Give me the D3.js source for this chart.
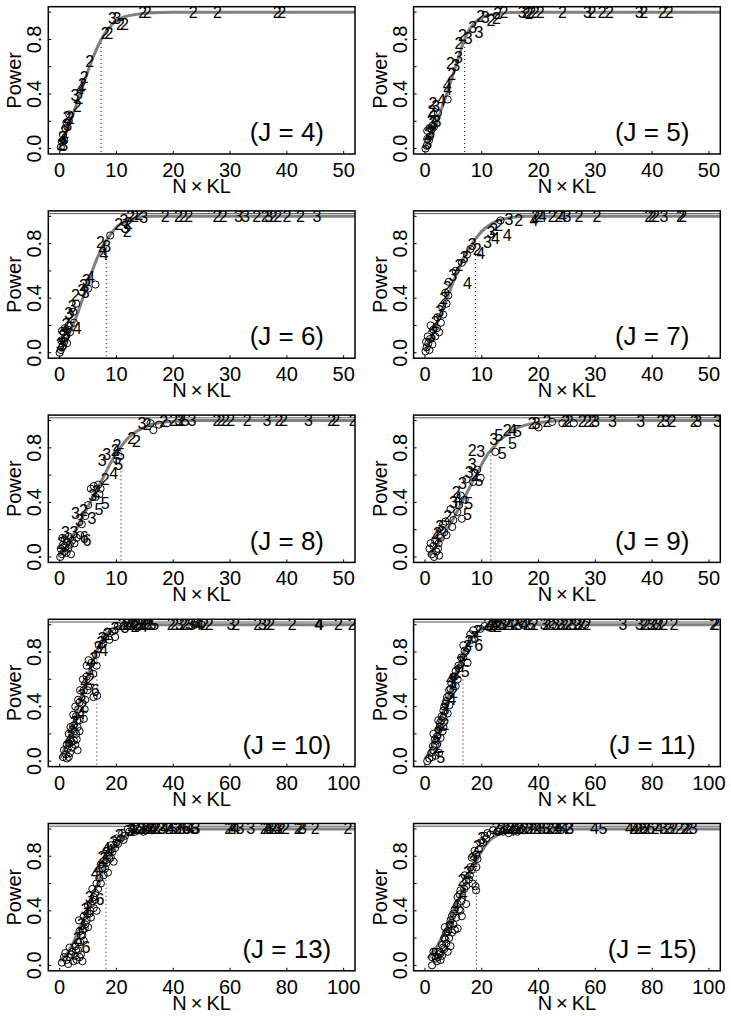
<!DOCTYPE html>
<html lang="en">
<head>
<meta charset="UTF-8">
<title>Power vs N x KL</title>
<script src="https://d3js.org/d3.v7.min.js"></script>
<style>
  html, body { margin: 0; padding: 0; background: #fff; }
  svg { display: block; }
  text { font-family: "Liberation Sans", Arial, Helvetica, sans-serif; fill: #000; }
</style>
</head>
<body>
<svg id="chart" width="731" height="1016"></svg>
<script>
// panel settings
const panelJ = [4, 5, 6, 7, 8, 9, 10, 11, 13, 15];
const xMaxes = [50, 50, 50, 50, 50, 50, 100, 100, 100, 100];
const xStars = [7.3, 7.0, 8.2, 8.9, 10.8, 11.6, 13.1, 13.4, 16.3, 18.1];
const refLevels = [null, null, 1.02, 1.02, 1.02, 1.02, 1.02, 1.02, 1.02, 1.02];
const ticks50 = [0, 10, 20, 30, 40, 50];
const ticks100 = [0, 20, 40, 60, 80, 100];
const yTicks = [0, 0.2, 0.4, 0.6, 0.8, 1.0];
const yTickLabels = [0, 0.4, 0.8];

// fitted curves (x, power)
const curve4 = [[0,0.01],[1,0.1],[2,0.21],[3,0.33],[4,0.45],[5,0.57],[6,0.68],[7.2,0.79],[8.2,0.86],[9.5,0.92],[11,0.96],[13,0.98],[16,0.995],[20,1],[52,1]];
const curve5 = [[0,0.01],[1,0.08],[2,0.18],[3,0.3],[4,0.42],[5,0.55],[6,0.68],[6.8,0.78],[7.5,0.85],[8.5,0.91],[10,0.96],[12,0.985],[15,0.998],[20,1],[52,1]];
const curve6 = [[0,0.01],[1,0.08],[2,0.17],[3,0.27],[4,0.39],[5,0.51],[6,0.63],[7,0.73],[8,0.81],[9,0.87],[10,0.92],[11.5,0.96],[13,0.985],[16,1],[52,1]];
const curve7 = [[0,0.01],[1,0.1],[2,0.2],[3,0.3],[4,0.41],[5,0.52],[6,0.62],[7,0.71],[8,0.78],[9,0.84],[10,0.89],[11.5,0.94],[13,0.97],[15,0.99],[18,1],[52,1]];
const curve8 = [[0,0.01],[1,0.06],[2,0.13],[3,0.21],[4,0.29],[5,0.37],[6,0.45],[7,0.53],[8,0.61],[9,0.69],[10,0.76],[11,0.82],[12,0.87],[13.5,0.92],[15,0.95],[17,0.98],[20,0.995],[24,1],[52,1]];
const curve9 = [[0.5,0.01],[2,0.08],[3,0.14],[4,0.21],[5,0.28],[6,0.36],[7,0.44],[8,0.52],[9,0.6],[10,0.68],[11,0.75],[12,0.8],[13,0.85],[14.5,0.9],[16,0.94],[18,0.97],[21,0.99],[25,1],[52,1]];
const curve10 = [[0,0.02],[2,0.1],[4,0.22],[6,0.36],[8,0.5],[10,0.63],[12,0.75],[14,0.85],[16,0.92],[18,0.96],[21,0.985],[25,1],[104,1]];
const curve11 = [[0,0.02],[2,0.08],[4,0.2],[6,0.33],[8,0.46],[10,0.59],[12,0.71],[14,0.81],[16,0.89],[18,0.94],[21,0.98],[25,0.995],[30,1],[104,1]];
const curve13 = [[0,0.03],[3,0.1],[6,0.22],[9,0.37],[12,0.53],[15,0.68],[18,0.81],[20,0.88],[22,0.93],[25,0.97],[29,0.99],[34,1],[104,1]];
const curve15 = [[1,0.05],[4,0.13],[7,0.25],[10,0.39],[13,0.54],[16,0.68],[19,0.8],[21,0.87],[23,0.92],[26,0.96],[30,0.99],[35,1],[104,1]];

// plotted points (x, power, plotting character; "o" = open circle)
const pts4 = [[14.6,1.0,"2"],[15.4,1.0,"2"],[23.5,1.0,"2"],[27.8,1.0,"2"],[38.3,1.0,"2"],[39.1,1.0,"2"],
  [9.3,0.95,"3"],[10.1,0.95,"3"],[10.7,0.91,"2"],[11.4,0.91,"2"],[8.0,0.84,"2"],[8.7,0.84,"2"],
  [5.3,0.64,"2"],[4.3,0.52,"2"],[4.0,0.47,"2"],[3.7,0.44,"4"],[2.7,0.39,"3"],[3.4,0.37,"2"],[3.1,0.31,"2"],
  [1.3,0.23,"2"],[1.6,0.2,"o"],[1.4,0.17,"3"],[1.0,0.15,"o"],[0.9,0.12,"2"],[0.6,0.1,"o"],[0.5,0.08,"3"],
  [0.4,0.05,"o"],[0.3,0.03,"2"],[0.2,0.01,"o"],[0.8,0.06,"o"],[1.7,0.25,"o"],[0.7,0.02,"3"],[1.2,0.19,"o"],[1.9,0.22,"2"]];
const pts5 = [[12.8,0.99,"2"],[13.9,1.0,"2"],[18.3,0.99,"2"],[17.1,1.0,"3"],[17.8,1.0,"2"],[18.8,1.0,"2"],[19.4,1.0,"2"],
  [20.3,1.0,"2"],[24.2,1.0,"2"],[28.6,1.0,"3"],[29.4,1.0,"2"],[31.2,1.0,"2"],[32.5,1.0,"2"],[37.7,1.0,"3"],[38.5,1.0,"2"],
  [41.8,1.0,"2"],[43,1.0,"2"],[9.8,0.97,"2"],[10.6,0.96,"3"],[11.6,0.94,"2"],[12.6,0.95,"2"],[9.5,0.85,"3"],[8.4,0.89,"3"],
  [6.6,0.83,"2"],[6.0,0.77,"2"],[7.6,0.81,"3"],[5.9,0.67,"3"],[4.5,0.62,"2"],[5.4,0.61,"3"],[4.7,0.54,"2"],[3.9,0.46,"4"],
  [4.0,0.43,"4"],[4.0,0.36,"o"],[2.9,0.35,"4"],[1.4,0.33,"2"],[1.9,0.31,"3"],
  [0.1,0.0,"o"],[0.3,0.02,"o"],[0.5,0.04,"3"],[0.4,0.07,"o"],[0.7,0.06,"o"],[0.6,0.1,"2"],[0.9,0.09,"o"],[1.0,0.12,"3"],
  [0.8,0.15,"o"],[1.2,0.14,"o"],[1.4,0.18,"3"],[1.1,0.2,"2"],[1.6,0.16,"o"],[1.8,0.22,"o"],[2.1,0.2,"3"],[1.5,0.25,"o"],
  [0.4,0.13,"o"],[2.3,0.26,"o"],[1.2,0.27,"2"]];
const pts6 = [[12.5,1.0,"2"],[13.2,1.0,"2"],[13.9,1.01,"2"],[14.8,0.99,"3"],[18.6,1.0,"2"],[20.9,1.0,"2"],[21.8,1.0,"2"],
  [22.7,1.0,"2"],[27.7,1.0,"2"],[28.8,1.0,"2"],[31.5,1.0,"3"],[32.7,1.0,"3"],[34.7,1.0,"2"],[36.2,1.0,"2"],[36.8,1.0,"3"],
  [37.6,1.0,"2"],[38.4,1.0,"2"],[40,1.0,"2"],[42.4,1.0,"2"],[45.3,1.0,"3"],
  [11.3,0.97,"3"],[10.4,0.94,"2"],[12.1,0.95,"2"],[11.9,0.89,"2"],[11.5,0.92,"3"],[8.9,0.86,"o"],[7.2,0.81,"2"],
  [8.3,0.78,"3"],[7.8,0.72,"4"],[7.6,0.76,"4"],[4.7,0.53,"3"],[4.2,0.49,"2"],[3.9,0.46,"3"],[6.3,0.5,"o"],[5.4,0.55,"4"],
  [4.5,0.44,"3"],[5.0,0.47,"o"],[2.8,0.42,"2"],[2.2,0.34,"3"],[2.9,0.36,"o"],[1.6,0.29,"3"],[1.9,0.26,"2"],[2.4,0.3,"o"],
  [3.1,0.18,"4"],[2.5,0.22,"o"],
  [0.0,0.0,"o"],[0.2,0.02,"o"],[0.4,0.04,"o"],[0.1,0.06,"3"],[0.6,0.05,"o"],[0.3,0.09,"o"],[0.8,0.08,"o"],[0.5,0.12,"2"],
  [1.0,0.11,"o"],[0.7,0.15,"o"],[1.2,0.14,"3"],[0.9,0.18,"o"],[1.4,0.17,"o"],[1.1,0.21,"2"],[1.6,0.2,"o"],[1.8,0.15,"o"],
  [0.4,0.16,"o"],[1.3,0.07,"o"]];
const pts7 = [[14.8,0.98,"3"],[16.5,0.97,"2"],[19.5,1.0,"2"],[19.2,0.97,"4"],[20.1,1.0,"2"],[20.7,1.0,"4"],[22.4,1.0,"2"],
  [23.6,1.0,"2"],[24.2,1.0,"4"],[25,1.0,"3"],[27.1,1.0,"2"],[30.3,1.0,"2"],[39.4,1.0,"2"],[40,1.0,"2"],[40.6,1.0,"2"],
  [42.1,1.0,"3"],[45,1.0,"2"],[45.4,1.0,"2"],
  [13.3,0.97,"o"],[13,0.93,"2"],[12.1,0.9,"2"],[12.4,0.84,"4"],[14.5,0.86,"4"],[11,0.81,"3"],[11.6,0.88,"3"],
  [8.3,0.79,"3"],[9.2,0.76,"2"],[9.8,0.73,"4"],[8.0,0.76,"o"],[6.9,0.7,"3"],[7.4,0.72,"o"],[6,0.64,"2"],[6.5,0.66,"o"],
  [5.4,0.6,"o"],[4.9,0.57,"3"],[7.5,0.51,"4"],[4.2,0.52,"o"],[3.9,0.48,"2"],[3.6,0.44,"o"],[4.1,0.42,"o"],[3.3,0.4,"2"],
  [3.8,0.36,"o"],[3.0,0.34,"o"],[2.6,0.3,"3"],[3.2,0.28,"o"],[2.2,0.26,"o"],[2.8,0.22,"o"],[1.8,0.22,"2"],[2.1,0.18,"o"],
  [1.5,0.17,"o"],[1.2,0.13,"3"],[1.8,0.12,"o"],[0.9,0.1,"o"],[0.6,0.07,"o"],[1.3,0.06,"o"],[0.3,0.04,"o"],[0.8,0.02,"o"],
  [0.1,0.01,"o"],[0.5,0.12,"o"],[1.0,0.2,"o"],[2.5,0.15,"o"],[0.2,0.08,"o"]];
const pts8 = [[14.5,0.98,"3"],[15.4,0.97,"2"],[16,0.98,"o"],[16.5,0.93,"o"],[17.5,0.97,"o"],[18.3,0.99,"2"],[18.9,0.98,"o"],
  [20.1,1.0,"2"],[21,1.0,"3"],[21.5,1.0,"2"],[22.1,1.0,"5"],[23.3,1.0,"3"],[27.7,1.0,"2"],[28.4,1.0,"2"],[29.2,1.0,"2"],
  [30.1,1.0,"2"],[33,1.0,"2"],[36.5,1.0,"3"],[38.6,1.0,"2"],[39.4,1.0,"2"],[43.8,1.0,"3"],[47.9,1.0,"2"],[48.6,1.0,"2"],
  [51.7,1.0,"2"],
  [12.7,0.87,"2"],[13.5,0.85,"2"],[10.1,0.82,"2"],[9.8,0.78,"2"],[7.5,0.71,"3"],[8.3,0.75,"3"],[10.4,0.68,"5"],
  [10.7,0.75,"5"],[9.5,0.61,"4"],[10.1,0.72,"5"],[8,0.57,"2"],[5.5,0.5,"o"],[6,0.52,"o"],[6.5,0.48,"2"],[7,0.46,"o"],
  [5.8,0.45,"3"],[6.3,0.44,"o"],[7.2,0.5,"o"],[6.8,0.53,"o"],[8,0.39,"5"],[6.9,0.35,"5"],[5.7,0.28,"3"],[2.8,0.32,"3"],
  [4.2,0.34,"2"],[5,0.38,"o"],[4.5,0.3,"o"],[3.5,0.27,"3"],[3.9,0.24,"o"],[1,0.18,"3"],[2.5,0.18,"3"],[3.6,0.16,"o"],
  [4.8,0.12,"6"],[4.3,0.14,"6"],
  [0.1,0.0,"o"],[0.4,0.02,"o"],[0.8,0.04,"o"],[0.2,0.06,"o"],[1.2,0.03,"o"],[0.6,0.09,"o"],[1.0,0.07,"o"],[1.5,0.06,"o"],
  [0.3,0.1,"2"],[1.3,0.11,"o"],[1.8,0.09,"o"],[2.2,0.12,"o"],[0.9,0.13,"o"],[2.0,0.02,"o"],[1.6,0.15,"o"],[2.6,0.1,"o"],
  [3.0,0.14,"o"],[0.5,0.14,"o"]];
const pts9 = [[18.9,0.98,"2"],[19.6,0.98,"3"],[20,0.95,"o"],[21.5,0.99,"2"],[22.4,0.99,"o"],[24.2,0.98,"o"],[24.8,0.99,"2"],
  [25.4,0.99,"2"],[26.2,0.98,"o"],[27.7,0.99,"2"],[28.6,0.99,"2"],[29.5,0.99,"2"],[30,0.99,"3"],[33,0.99,"3"],[38,0.99,"3"],
  [41.5,0.99,"2"],[42.4,0.99,"3"],[43.5,0.99,"2"],[47.4,0.99,"2"],[48,0.99,"3"],[51.5,0.99,"3"],
  [14.5,0.93,"2"],[15.4,0.93,"4"],[16.3,0.92,"5"],[12.1,0.86,"3"],[13,0.89,"5"],[12.4,0.77,"o"],[13.6,0.76,"5"],
  [15.4,0.83,"5"],[8.3,0.78,"2"],[9.8,0.77,"3"],[8.3,0.68,"3"],[9.2,0.64,"o"],[8.8,0.6,"2"],[7.8,0.62,"3"],[9.8,0.58,"o"],
  [8.5,0.55,"o"],[6.6,0.54,"3"],[9.5,0.56,"5"],[7.3,0.57,"o"],
  [5.5,0.47,"2"],[6.3,0.45,"o"],[7,0.42,"o"],[5,0.4,"3"],[6,0.38,"o"],[7.5,0.31,"5"],[7.7,0.39,"5"],[5.7,0.33,"o"],
  [4.5,0.35,"o"],[6.5,0.28,"o"],[4,0.3,"2"],[5,0.27,"o"],[3.6,0.26,"o"],[4.8,0.22,"o"],[5.8,0.42,"4"],
  [0.8,0.06,"o"],[1.2,0.02,"o"],[1.5,0.08,"o"],[2,0.04,"o"],[1.8,0.12,"o"],[2.4,0.1,"o"],[2.2,0.17,"2"],[2.8,0.14,"o"],
  [3,0.2,"o"],[3.4,0.18,"o"],[2.6,0.22,"3"],[1.6,0.0,"o"],[2.5,0.01,"o"],[1,0.1,"o"],[3.8,0.16,"o"],[3.2,0.24,"o"],
  [1.9,0.15,"4"],[2.3,0.06,"o"]];
const pts10 = [[22.5,0.99,"o"],[23.4,1.0,"2"],[24,0.99,"o"],[24.8,1.0,"4"],[25.5,1.0,"2"],[26.2,1.0,"o"],[27,1.0,"2"],
  [28,1.0,"3"],[28.8,1.0,"2"],[30,1.0,"2"],[31,1.0,"3"],[32.5,1.0,"5"],[39.3,1.0,"2"],[40.5,1.0,"2"],[42.2,1.0,"3"],
  [43.5,1.0,"2"],[45.7,1.0,"3"],[47.5,1.0,"o"],[49.2,1.0,"4"],[51,1.0,"2"],[52.7,1.0,"2"],[60.3,1.0,"3"],[62,1.0,"2"],
  [69.7,1.0,"2"],[71.4,1.0,"3"],[73,1.0,"2"],[74.3,1.0,"2"],[81.9,1.0,"2"],[91.2,1.0,"4"],[91.5,1.0,"4"],[98.2,1.0,"2"],
  [103,1.0,"2"],
  [22,1.0,"2"],[23,0.98,"3"],[25,0.99,"o"],[26.5,0.99,"2"],[27.5,0.98,"o"],[29,1.0,"3"],[29.5,0.99,"4"],[31.5,1.0,"2"],
  [33.5,1.0,"5"],[44.5,1.0,"2"],[46.5,1.0,"3"],[48.5,1.0,"4"],[50,1.0,"o"],
  [20.5,0.99,"o"],[19.5,0.97,"3"],[18.5,0.95,"o"],[17,0.93,"2"],[16,0.91,"o"],[15,0.9,"3"],[14.5,0.87,"2"],[15.5,0.81,"4"],
  [19.5,0.91,"o"],[17.5,0.89,"o"],[13.5,0.83,"3"],[12.8,0.78,"o"],[13.8,0.85,"o"],[15.2,0.86,"o"],[16.8,0.95,"o"],
  [12,0.75,"2"],[11.2,0.72,"o"],[13,0.7,"o"],[10.5,0.67,"3"],[11.8,0.64,"o"],[9.5,0.62,"o"],[10.8,0.6,"2"],[8.8,0.58,"4"],
  [10,0.55,"o"],[12.5,0.52,"6"],[11.9,0.47,"o"],[13.2,0.48,"o"],[8.5,0.52,"o"],[7.8,0.48,"3"],[9,0.45,"o"],[7,0.43,"o"],
  [8.2,0.4,"2"],[6.5,0.38,"o"],[7.6,0.35,"4"],[5.8,0.33,"o"],[7,0.3,"o"],[8.5,0.31,"o"],[5.2,0.28,"3"],[6.3,0.25,"o"],
  [4.5,0.23,"o"],[5.8,0.2,"o"],[7,0.22,"o"],[4,0.18,"2"],[5,0.15,"o"],[3.4,0.13,"o"],[4.4,0.1,"o"],[2.8,0.09,"o"],
  [3.6,0.06,"o"],[2.2,0.05,"o"],[1.5,0.08,"o"],[2.5,0.02,"o"],[3.0,0.15,"4"],[6.3,0.08,"o"],[5.5,0.12,"o"],[4.8,0.26,"o"],
  [6,0.16,"o"],[9.5,0.7,"o"],[10.2,0.74,"o"],[8.2,0.6,"o"],[9.8,0.52,"o"],[7.2,0.52,"o"],[6.5,0.45,"o"],[5.5,0.4,"o"],
  [8.8,0.38,"o"],[4.8,0.34,"o"],[6.2,0.3,"o"],[3.8,0.25,"o"],[5.3,0.22,"o"],[3.2,0.2,"o"],[4.2,0.14,"o"],[2.5,0.12,"o"],
  [1.2,0.03,"o"],[3.2,0.03,"o"]];
const pts11 = [[21,0.99,"o"],[22,1.0,"2"],[23,1.0,"4"],[24,1.0,"2"],[25,1.0,"o"],[26,1.0,"2"],[27.5,1.0,"3"],[28.5,1.0,"2"],
  [30,1.0,"4"],[31.5,1.0,"2"],[33,1.0,"3"],[34.5,1.0,"o"],[36,1.0,"2"],[37.5,1.0,"5"],[42,1.0,"3"],[43,1.0,"2"],
  [44.5,1.0,"2"],[46,1.0,"3"],[47.5,1.0,"2"],[49,1.0,"2"],[50.5,1.0,"2"],[52,1.0,"3"],[53.5,1.0,"2"],[55,1.0,"2"],
  [56.5,1.0,"o"],[69.7,1.0,"3"],[75.5,1.0,"3"],[77,1.0,"2"],[78,1.0,"2"],[79.6,1.0,"3"],[81.9,1.0,"3"],[84.2,1.0,"2"],
  [87.7,1.0,"2"],[101.7,1.0,"2"],[102.3,1.0,"2"],
  [22.5,0.98,"o"],[23.5,0.99,"3"],[24.5,1.0,"4"],[25.5,0.99,"2"],[26.5,1.0,"o"],[29,1.0,"2"],[32,1.0,"2"],[35,1.0,"4"],
  [38.5,1.0,"2"],[45,1.0,"o"],[48,1.0,"3"],[51,1.0,"2"],[54,1.0,"3"],[57,1.0,"2"],[80.5,1.0,"2"],[82.5,1.0,"2"],
  [19.5,0.97,"o"],[18.5,0.95,"2"],[17.5,0.91,"3"],[16.5,0.89,"o"],[15.5,0.88,"2"],[18.9,0.85,"6"],[15,0.84,"3"],
  [14,0.81,"o"],[14.5,0.78,"2"],[13.5,0.76,"o"],[15,0.72,"o"],[14.2,0.66,"5"],[12.5,0.72,"3"],[12,0.68,"o"],[11.2,0.65,"2"],
  [10.5,0.62,"o"],[11.5,0.6,"o"],[9.8,0.58,"3"],[10.8,0.55,"o"],[9,0.53,"o"],[10,0.5,"2"],[8.5,0.48,"o"],[9.5,0.45,"4"],
  [7.5,0.44,"o"],[8.6,0.41,"o"],[7,0.38,"3"],[8,0.35,"o"],[6.5,0.32,"o"],[5.8,0.3,"o"],[7,0.27,"2"],[5.2,0.25,"o"],
  [6.2,0.22,"o"],[4.5,0.2,"3"],[5.5,0.17,"o"],[4,0.15,"o"],[3.5,0.12,"o"],[4.5,0.1,"2"],[3,0.08,"o"],[2.2,0.06,"o"],
  [3.8,0.04,"o"],[1.5,0.02,"o"],[0.8,0.0,"o"],[5,0.06,"o"],[5.5,0.03,"5"],[6.5,0.25,"o"],[4.7,0.3,"o"],[3,0.2,"o"],
  [12.8,0.76,"o"],[11.8,0.7,"o"],[10.8,0.66,"o"],[10,0.62,"o"],[9.3,0.57,"o"],[8.5,0.52,"o"],[7.8,0.47,"o"],[7.2,0.42,"o"],
  [6.5,0.37,"o"],[6,0.33,"o"],[5.3,0.28,"o"],[4.8,0.23,"o"],[4.2,0.18,"o"],[3.5,0.16,"o"],[2.8,0.11,"o"],[2.5,0.03,"o"],
  [6.8,0.4,"o"],[9,0.6,"4"],[13.5,0.85,"o"],[16,0.93,"o"],[17,0.96,"o"]];
const pts13 = [[24,1.0,"o"],[25,0.99,"2"],[26,1.0,"o"],[27,1.0,"2"],[28,0.99,"o"],[29,1.0,"3"],[30,1.0,"2"],[31,1.0,"o"],
  [32,1.0,"2"],[33,1.0,"4"],[34,1.0,"2"],[35.5,1.0,"2"],[37,1.0,"4"],[38.5,1.0,"2"],[40,1.0,"5"],[41.5,1.0,"3"],[43,1.0,"5"],
  [44.5,1.0,"6"],[46,1.0,"4"],[47.5,1.0,"5"],[59.5,1.0,"2"],[60.5,1.0,"2"],[62,1.0,"4"],[63.5,1.0,"3"],[67.3,1.0,"3"],
  [72,1.0,"2"],[73,1.0,"2"],[74,1.0,"3"],[75,1.0,"2"],[76.5,1.0,"4"],[78,1.0,"2"],[79.5,1.0,"2"],[84,1.0,"2"],[85.5,1.0,"3"],
  [90,1.0,"2"],[101.5,1.0,"2"],
  [24.5,0.98,"o"],[25.5,1.0,"4"],[26.5,0.98,"o"],[27.5,1.0,"o"],[28.5,1.0,"2"],[29.5,0.98,"o"],[30.5,0.99,"o"],
  [31.5,1.0,"4"],[32.5,0.99,"o"],[33.5,1.0,"2"],[36,1.0,"3"],[39,1.0,"4"],[42,1.0,"2"],[45,1.0,"5"],[48,1.0,"3"],
  [61,1.0,"4"],[73.5,1.0,"4"],[77,1.0,"3"],[84.8,1.0,"2"],
  [22,0.97,"o"],[21,0.95,"2"],[20,0.93,"o"],[19,0.9,"3"],[23,0.95,"o"],[18,0.88,"o"],[20.5,0.89,"o"],[17.5,0.84,"4"],
  [16.5,0.82,"2"],[18,0.79,"o"],[19,0.76,"o"],[15.5,0.78,"2"],[14.5,0.74,"o"],[16,0.71,"o"],[17,0.68,"o"],[13.5,0.7,"4"],
  [12.5,0.67,"4"],[14,0.64,"o"],[13,0.6,"o"],[11.5,0.56,"o"],[12.5,0.53,"o"],[10.5,0.5,"3"],[11.5,0.47,"o"],[14.2,0.48,"6"],
  [13,0.4,"o"],[10,0.44,"o"],[9,0.41,"3"],[10.5,0.38,"o"],[8.5,0.36,"o"],[9.5,0.33,"o"],[7.8,0.3,"3"],[8.8,0.27,"o"],
  [7,0.25,"o"],[8,0.22,"o"],[6.2,0.2,"2"],[7.2,0.17,"o"],[9.3,0.13,"6"],[5.5,0.14,"o"],[6.5,0.11,"o"],[4.5,0.1,"o"],
  [5.5,0.07,"o"],[3.5,0.06,"o"],[4.8,0.03,"o"],[2.5,0.04,"o"],[1.5,0.06,"o"],[0.8,0.02,"o"],[3,0.01,"o"],[6,0.04,"o"],
  [7.5,0.08,"o"],[8.5,0.18,"o"],[10,0.28,"o"],[11,0.35,"o"],[6.8,0.33,"o"],[12,0.42,"o"],[8,0.03,"o"],
  [21.5,0.93,"o"],[22.5,0.92,"o"],[20,0.9,"o"],[19.5,0.86,"o"],[18.5,0.83,"o"],[17.5,0.78,"o"],[16.5,0.75,"o"],
  [15,0.71,"o"],[15.5,0.66,"o"],[14.5,0.6,"o"],[13.5,0.56,"o"],[12.5,0.48,"o"],[11,0.45,"o"],[9.8,0.38,"o"],[9,0.3,"o"],
  [8.2,0.26,"o"],[7.5,0.22,"o"],[6.5,0.17,"o"],[5.8,0.11,"o"],[4,0.08,"o"],[2,0.09,"o"],[3.5,0.13,"o"],[7,0.06,"o"],
  [10.8,0.4,"o"],[12,0.5,"o"],[16.5,0.86,"4"],[14.8,0.79,"2"]];
const pts15 = [[24,0.99,"o"],[25,1.0,"2"],[26,0.98,"o"],[27,1.0,"3"],[28,0.99,"o"],[29,1.0,"o"],[30,1.0,"2"],[31,0.99,"o"],
  [32,1.0,"4"],[33,1.0,"2"],[34,1.0,"o"],[35,1.0,"2"],[36.5,1.0,"3"],[38,1.0,"2"],[39.5,1.0,"2"],[41,1.0,"3"],[42.5,1.0,"5"],
  [44,1.0,"2"],[45.5,1.0,"3"],[47,1.0,"4"],[49,1.0,"4"],[50.5,1.0,"2"],[59.7,1.0,"4"],[62.7,1.0,"5"],[72,1.0,"4"],
  [73.5,1.0,"2"],[75,1.0,"2"],[76.5,1.0,"2"],[78,1.0,"2"],[79.5,1.0,"6"],[82.5,1.0,"4"],[84,1.0,"3"],[85.5,1.0,"2"],
  [87.5,1.0,"2"],[89.5,1.0,"2"],[91.5,1.0,"2"],[93,1.0,"2"],[94.5,1.0,"3"],
  [25.5,0.98,"o"],[26.5,1.0,"o"],[27.5,0.98,"o"],[28.5,1.0,"2"],[29.5,0.97,"o"],[30.5,0.99,"4"],[31.5,1.0,"o"],
  [32.5,0.98,"o"],[33.5,1.0,"3"],[34.5,0.99,"o"],[37,1.0,"2"],[40,1.0,"4"],[43,1.0,"3"],[46,1.0,"2"],[48,1.0,"5"],
  [51,1.0,"3"],[74,1.0,"4"],[77,1.0,"6"],[81,1.0,"2"],[86.5,1.0,"3"],[92,1.0,"2"],
  [22,0.97,"o"],[21,0.95,"o"],[20,0.93,"3"],[23,0.96,"o"],[19.5,0.9,"o"],[18.5,0.87,"2"],[17.5,0.84,"o"],[18,0.81,"o"],
  [16.5,0.79,"o"],[17.2,0.76,"2"],[16,0.72,"o"],[18.1,0.72,"o"],[17.8,0.58,"o"],[18,0.55,"o"],[15,0.68,"2"],[14,0.66,"o"],
  [15.5,0.63,"o"],[13,0.62,"2"],[14.5,0.58,"o"],[12.5,0.55,"o"],[13.5,0.52,"4"],[11.5,0.5,"o"],[12.8,0.47,"o"],
  [10.8,0.44,"4"],[12,0.41,"o"],[10,0.38,"o"],[11,0.35,"o"],[13,0.36,"o"],[9,0.33,"o"],[10,0.3,"o"],[8.5,0.28,"2"],
  [9.5,0.24,"o"],[7.5,0.24,"o"],[8.5,0.2,"o"],[6.8,0.2,"o"],[7.5,0.16,"o"],[6,0.15,"o"],[6.8,0.12,"o"],[5.2,0.1,"o"],
  [6,0.07,"o"],[4.5,0.06,"o"],[5.5,0.04,"o"],[3.5,0.08,"5"],[4.2,0.03,"o"],[2.5,0.0,"o"],[8,0.1,"o"],[9,0.14,"o"],
  [11.5,0.27,"o"],[7,0.28,"o"],
  [21.5,0.93,"o"],[20.5,0.9,"o"],[19,0.85,"o"],[18.5,0.78,"o"],[17,0.8,"o"],[16.5,0.7,"o"],[15.8,0.66,"o"],[14.5,0.62,"o"],
  [13.8,0.56,"o"],[12.2,0.52,"o"],[11.5,0.45,"o"],[10.5,0.41,"o"],[9.5,0.36,"o"],[8.8,0.3,"o"],[8,0.25,"o"],[7.2,0.19,"o"],
  [6.4,0.13,"o"],[5.5,0.09,"o"],[4.8,0.08,"o"],[3.8,0.05,"o"],[10.5,0.26,"o"],[12.5,0.4,"o"],[14.5,0.45,"o"],
  [16.8,0.6,"o"],[2.5,0.06,"o"],[3,0.1,"o"]];

const curves = [curve4, curve5, curve6, curve7, curve8, curve9, curve10, curve11, curve13, curve15];
const points = [pts4, pts5, pts6, pts7, pts8, pts9, pts10, pts11, pts13, pts15];

const svg = d3.select("#chart");
const boxW = 306.7, boxH = 147.3;
const colStep = 365.3, rowStep = 204.2;

panelJ.forEach((J, i) => {
  const col = i % 2, row = Math.floor(i / 2);
  const left = 48.3 + col * colStep, top = 6.7 + row * rowStep;
  const xmax = xMaxes[i];
  const x = d3.scaleLinear().domain([-0.04 * xmax, 1.04 * xmax]).range([left, left + boxW]);
  const y = d3.scaleLinear().domain([-0.04, 1.04]).range([top + boxH, top]);
  const g = svg.append("g");

  const clipId = "clip" + i;
  svg.append("clipPath").attr("id", clipId)
    .append("rect").attr("x", left).attr("y", top).attr("width", boxW).attr("height", boxH);
  const plot = g.append("g").attr("clip-path", `url(#${clipId})`);

  // reference line near the top
  if (refLevels[i] != null) {
    plot.append("line")
      .attr("x1", left).attr("x2", left + boxW)
      .attr("y1", y(refLevels[i])).attr("y2", y(refLevels[i]))
      .attr("stroke", "#555").attr("stroke-width", 1);
  }

  // fitted curve
  plot.append("path")
    .datum(curves[i])
    .attr("fill", "none")
    .attr("stroke", "#808080")
    .attr("stroke-width", 3)
    .attr("d", d3.line().x(d => x(d[0])).y(d => y(d[1])).curve(d3.curveMonotoneX));

  // dotted marker at power 0.8
  plot.append("line")
    .attr("x1", x(xStars[i])).attr("x2", x(xStars[i]))
    .attr("y1", y(-0.025)).attr("y2", y(0.8))
    .attr("stroke", "#000").attr("stroke-width", 1)
    .attr("stroke-dasharray", "1,3");

  // points
  const pts = points[i];
  plot.selectAll("circle.pt")
    .data(pts.filter(d => d[2] === "o"))
    .join("circle")
    .attr("class", "pt")
    .attr("cx", d => x(d[0])).attr("cy", d => y(d[1]))
    .attr("r", 3.6)
    .attr("fill", "none").attr("stroke", "#000").attr("stroke-width", 1);

  plot.selectAll("text.pt")
    .data(pts.filter(d => d[2] !== "o"))
    .join("text")
    .attr("class", "pt")
    .attr("x", d => x(d[0])).attr("y", d => y(d[1]))
    .attr("text-anchor", "middle")
    .attr("dominant-baseline", "central")
    .style("font-size", "16px")
    .text(d => d[2]);

  // box
  g.append("rect")
    .attr("x", left).attr("y", top).attr("width", boxW).attr("height", boxH)
    .attr("fill", "none").attr("stroke", "#000").attr("stroke-width", 1.5);

  // x axis ticks + labels
  const xt = xmax === 50 ? ticks50 : ticks100;
  g.selectAll("line.xt").data(xt).join("line")
    .attr("x1", d => x(d)).attr("x2", d => x(d))
    .attr("y1", top + boxH).attr("y2", top + boxH - 3)
    .attr("stroke", "#000");
  g.selectAll("text.xt").data(xt).join("text")
    .attr("x", d => x(d)).attr("y", top + boxH + 23)
    .attr("text-anchor", "middle")
    .style("font-size", "20px")
    .text(d => d);

  // y axis ticks + labels
  g.selectAll("line.yt").data(yTicks).join("line")
    .attr("x1", left).attr("x2", left + 3)
    .attr("y1", d => y(d)).attr("y2", d => y(d))
    .attr("stroke", "#000");
  g.selectAll("text.yt").data(yTickLabels).join("text")
    .attr("transform", d => `translate(${left - 7},${y(d)}) rotate(-90)`)
    .attr("text-anchor", "middle")
    .style("font-size", "20px")
    .text(d => d3.format(".1f")(d));

  // axis titles
  g.append("text")
    .attr("transform", `translate(${left - 27},${top + boxH / 2}) rotate(-90)`)
    .attr("text-anchor", "middle")
    .style("font-size", "20px")
    .text("Power");
  g.append("text")
    .attr("x", left + boxW / 2).attr("y", top + boxH + 39)
    .attr("text-anchor", "middle")
    .style("font-size", "20px")
    .text("N\u2009\u00d7\u2009KL");

  // panel label
  g.append("text")
    .attr("x", x(0.8 * xmax)).attr("y", y(0.12))
    .attr("text-anchor", "middle")
    .attr("dominant-baseline", "central")
    .style("font-size", "26px")
    .text(`(J = ${J})`);
});
</script>
</body>
</html>
